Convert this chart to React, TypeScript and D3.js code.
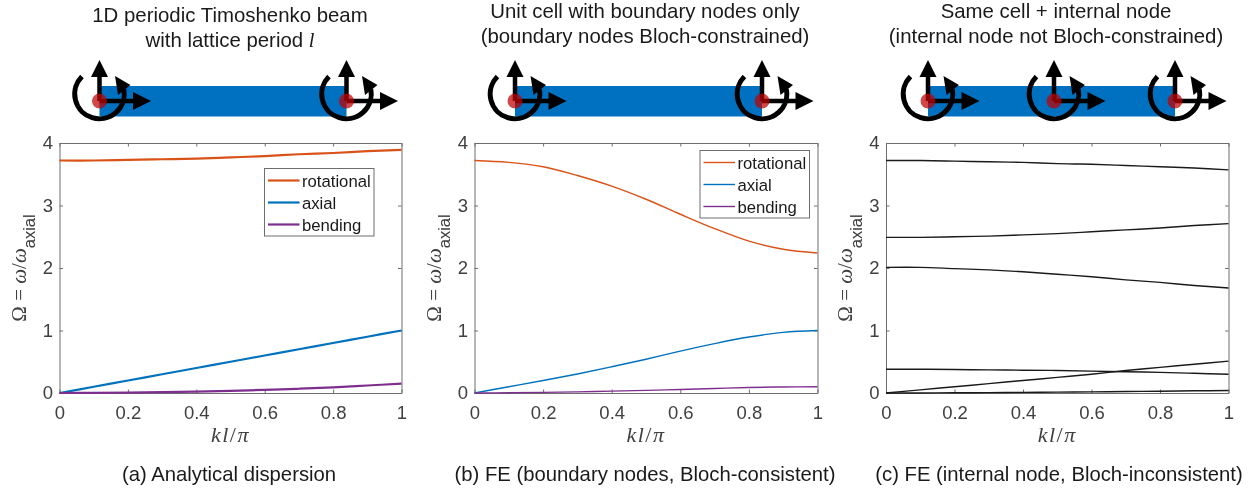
import React, { useEffect, useRef } from 'react';
import * as d3 from 'd3';

const kValues = [0, 0.1, 0.2, 0.3, 0.4, 0.5, 0.6, 0.7, 0.8, 0.9, 1];
const xTicks = [0, 0.2, 0.4, 0.6, 0.8, 1];
const yTicks = [0, 1, 2, 3, 4];

// panel (a)
const rotationalA = [3.72, 3.72, 3.73, 3.74, 3.75, 3.77, 3.79, 3.82, 3.84, 3.87, 3.89];
const axialA = [0, 0.1, 0.2, 0.3, 0.4, 0.5, 0.6, 0.7, 0.8, 0.9, 1];
const bendingA = [0, 0.002, 0.006, 0.013, 0.023, 0.035, 0.05, 0.068, 0.09, 0.12, 0.15];

// panel (b)
const rotationalB = [3.72, 3.69, 3.62, 3.48, 3.31, 3.1, 2.86, 2.63, 2.43, 2.3, 2.24];
const axialB = [0, 0.1, 0.2, 0.305, 0.42, 0.54, 0.67, 0.79, 0.895, 0.97, 1];
const bendingB = [0, 0.003, 0.01, 0.018, 0.03, 0.042, 0.057, 0.073, 0.088, 0.097, 0.1];

// panel (c)
const branch1 = [3.72, 3.72, 3.71, 3.7, 3.69, 3.67, 3.66, 3.64, 3.62, 3.6, 3.57];
const branch2 = [2.49, 2.49, 2.5, 2.51, 2.53, 2.55, 2.58, 2.61, 2.64, 2.68, 2.71];
const branch3 = [2.01, 2.01, 1.99, 1.97, 1.94, 1.9, 1.86, 1.81, 1.77, 1.72, 1.68];
const branch4 = [0.38, 0.38, 0.375, 0.37, 0.365, 0.36, 0.35, 0.34, 0.33, 0.315, 0.3];
const branch5 = [0, 0.05, 0.1, 0.15, 0.2, 0.25, 0.3, 0.36, 0.41, 0.46, 0.51];
const branch6 = [0, 0.001, 0.003, 0.006, 0.01, 0.014, 0.018, 0.023, 0.029, 0.035, 0.04];

const ORANGE = '#d95319';
const BLUE = '#0072bd';
const PURPLE = '#7e2f8e';
const BEAM = '#0070c0';
const TEXT = '#404040';
const AXIS = '#6e6e6e';

const panels = [
  {
    left: 59.5, right: 401.5, center: 230, captionX: 229, titleY: 22,
    title: ['1D periodic Timoshenko beam', 'with lattice period '],
    titleVar: 'l',
    caption: '(a) Analytical dispersion',
    nodes: [99.5, 346.5],
    lineWidth: 2.2,
    series: [
      { name: 'rotational', color: ORANGE, values: rotationalA },
      { name: 'axial', color: BLUE, values: axialA },
      { name: 'bending', color: PURPLE, values: bendingA },
    ],
    legend: { x: 264.5, y: 168.5, w: 109.5, h: 67.5 },
  },
  {
    left: 474.5, right: 817.5, center: 645, captionX: 645, titleY: 18,
    title: ['Unit cell with boundary nodes only', '(boundary nodes Bloch-constrained)'],
    titleVar: '',
    caption: '(b) FE (boundary nodes, Bloch-consistent)',
    nodes: [515, 762],
    lineWidth: 1.4,
    series: [
      { name: 'rotational', color: ORANGE, values: rotationalB },
      { name: 'axial', color: BLUE, values: axialB },
      { name: 'bending', color: PURPLE, values: bendingB },
    ],
    legend: { x: 700, y: 150.5, w: 109.5, h: 67.5 },
  },
  {
    left: 886, right: 1228.5, center: 1056, captionX: 1059, titleY: 18,
    title: ['Same cell + internal node', '(internal node not Bloch-constrained)'],
    titleVar: '',
    caption: '(c) FE (internal node, Bloch-inconsistent)',
    nodes: [928, 1054, 1175],
    lineWidth: 1.4,
    series: [branch1, branch2, branch3, branch4, branch5, branch6].map(values => ({ name: '', color: '#1a1a1a', values })),
    legend: null,
  },
];

const TOP = 143;
const BOTTOM = 393;
const SANS = '"Liberation Sans", Arial, sans-serif';
const SERIF = '"Liberation Serif", serif';

// rotation symbol: open ring running clockwise from upper left round to the right
const ringPath = d3.arc()({ innerRadius: 24.8, outerRadius: 24.8, startAngle: Math.PI * 0.44, endAngle: Math.PI * 1.75 }) as string;

function Node({ x }: { x: number }) {
  return (
    <g transform={`translate(${x},101)`}>
      <path d={ringPath} transform="translate(0,-7)" fill="none" stroke="#000" strokeWidth={5} />
      <path d="M15.5,-25 L31,-16 L18.5,-6 Z" fill="#000" />
      <line x1={0} y1={0} x2={0} y2={-26} stroke="#000" strokeWidth={4.5} />
      <path d="M0,-41 L8.5,-24 L-8.5,-24 Z" fill="#000" />
      <line x1={0} y1={0} x2={35} y2={0} stroke="#000" strokeWidth={4.5} />
      <path d="M51.5,0 L33.5,9 L33.5,-9 Z" fill="#000" />
      <circle r={7.5} fill="#c00000" fillOpacity={0.72} />
    </g>
  );
}

function Panel({ p }: { p: (typeof panels)[number] }) {
  const ref = useRef<SVGGElement>(null);
  const x = d3.scaleLinear().domain([0, 1]).range([p.left, p.right]);
  const y = d3.scaleLinear().domain([0, 4]).range([BOTTOM, TOP]);
  const line = d3.line<number>()
    .x((_, i) => x(kValues[i]))
    .y(d => y(d))
    .curve(d3.curveCatmullRom);

  useEffect(() => {
    const g = d3.select(ref.current);
    g.selectAll('*').remove();
    const bottom = d3.axisBottom(x).tickValues(xTicks).tickSizeInner(-3.5).tickSizeOuter(0).tickPadding(12.5).tickFormat(d => String(d));
    const top = d3.axisTop(x).tickValues(xTicks).tickSizeInner(-3.5).tickSizeOuter(0).tickFormat(() => '');
    const left = d3.axisLeft(y).tickValues(yTicks).tickSizeInner(-3.5).tickSizeOuter(0).tickPadding(6.5).tickFormat(d => String(d));
    const right = d3.axisRight(y).tickValues(yTicks).tickSizeInner(-3.5).tickSizeOuter(0).tickFormat(() => '');
    g.append('g').attr('transform', `translate(0,${BOTTOM})`).call(bottom);
    g.append('g').attr('transform', `translate(0,${TOP})`).call(top);
    g.append('g').attr('transform', `translate(${p.left},0)`).call(left);
    g.append('g').attr('transform', `translate(${p.right},0)`).call(right);
    g.selectAll('.domain').attr('stroke', AXIS).attr('stroke-width', 1);
    g.selectAll('.tick line').attr('stroke', AXIS).attr('stroke-width', 1);
    g.selectAll('.tick text').attr('fill', TEXT).attr('font-size', 18.5).attr('font-family', SANS);
  }, []);

  const midX = (p.left + p.right) / 2;
  const nodes = p.nodes;
  return (
    <g>
      <text x={p.center} y={p.titleY} textAnchor="middle" fontFamily={SANS} fontSize={20.4} fill="#1a1a1a">{p.title[0]}</text>
      <text x={p.center} y={p.titleY + 25} textAnchor="middle" fontFamily={SANS} fontSize={20.4} fill="#1a1a1a">
        {p.title[1]}
        {p.titleVar && <tspan fontFamily={SERIF} fontStyle="italic">{p.titleVar}</tspan>}
      </text>
      <rect x={nodes[0]} y={86} width={nodes[nodes.length - 1] - nodes[0]} height={30.5} fill={BEAM} />
      {nodes.map(n => <Node key={n} x={n} />)}
      <g ref={ref} />
      {p.series.map((s, i) => (
        <path key={i} d={line(s.values) as string} fill="none" stroke={s.color} strokeWidth={p.lineWidth} />
      ))}
      {p.legend && (
        <g>
          <rect x={p.legend.x} y={p.legend.y} width={p.legend.w} height={p.legend.h} fill="#fff" stroke={AXIS} strokeWidth={1} />
          {p.series.map((s, i) => {
            const ly = p.legend!.y + 12 + i * 22;
            return (
              <g key={s.name}>
                <line x1={p.legend!.x + 3.5} x2={p.legend!.x + 35} y1={ly} y2={ly} stroke={s.color} strokeWidth={p.lineWidth} />
                <text x={p.legend!.x + 37.5} y={ly + 6} fontFamily={SANS} fontSize={16.7} fill="#1a1a1a">{s.name}</text>
              </g>
            );
          })}
        </g>
      )}
      <text x={midX} y={441.5} textAnchor="middle" fontFamily={SERIF} fontSize={22} letterSpacing={1.5} fill={TEXT}>
        <tspan fontStyle="italic">kl</tspan>/<tspan fontStyle="italic">π</tspan>
      </text>
      <text transform={`translate(${p.left - 34},${(TOP + BOTTOM) / 2}) rotate(-90)`} textAnchor="middle" fontFamily={SERIF} fontSize={21} fill={TEXT}>
        Ω = <tspan fontStyle="italic">ω</tspan>/<tspan fontStyle="italic">ω</tspan>
        <tspan fontFamily={SANS} fontSize={16.5} dy={9.5}>axial</tspan>
      </text>
      <text x={p.captionX} y={481} textAnchor="middle" fontFamily={SANS} fontSize={20.3} fill="#1a1a1a">{p.caption}</text>
    </g>
  );
}

export default function App() {
  return (
    <svg width={1258} height={488} style={{ position: 'absolute', left: 0, top: 0, background: '#fff', filter: 'blur(0.35px)' }}>
      {panels.map(p => <Panel key={p.caption} p={p} />)}
    </svg>
  );
}
